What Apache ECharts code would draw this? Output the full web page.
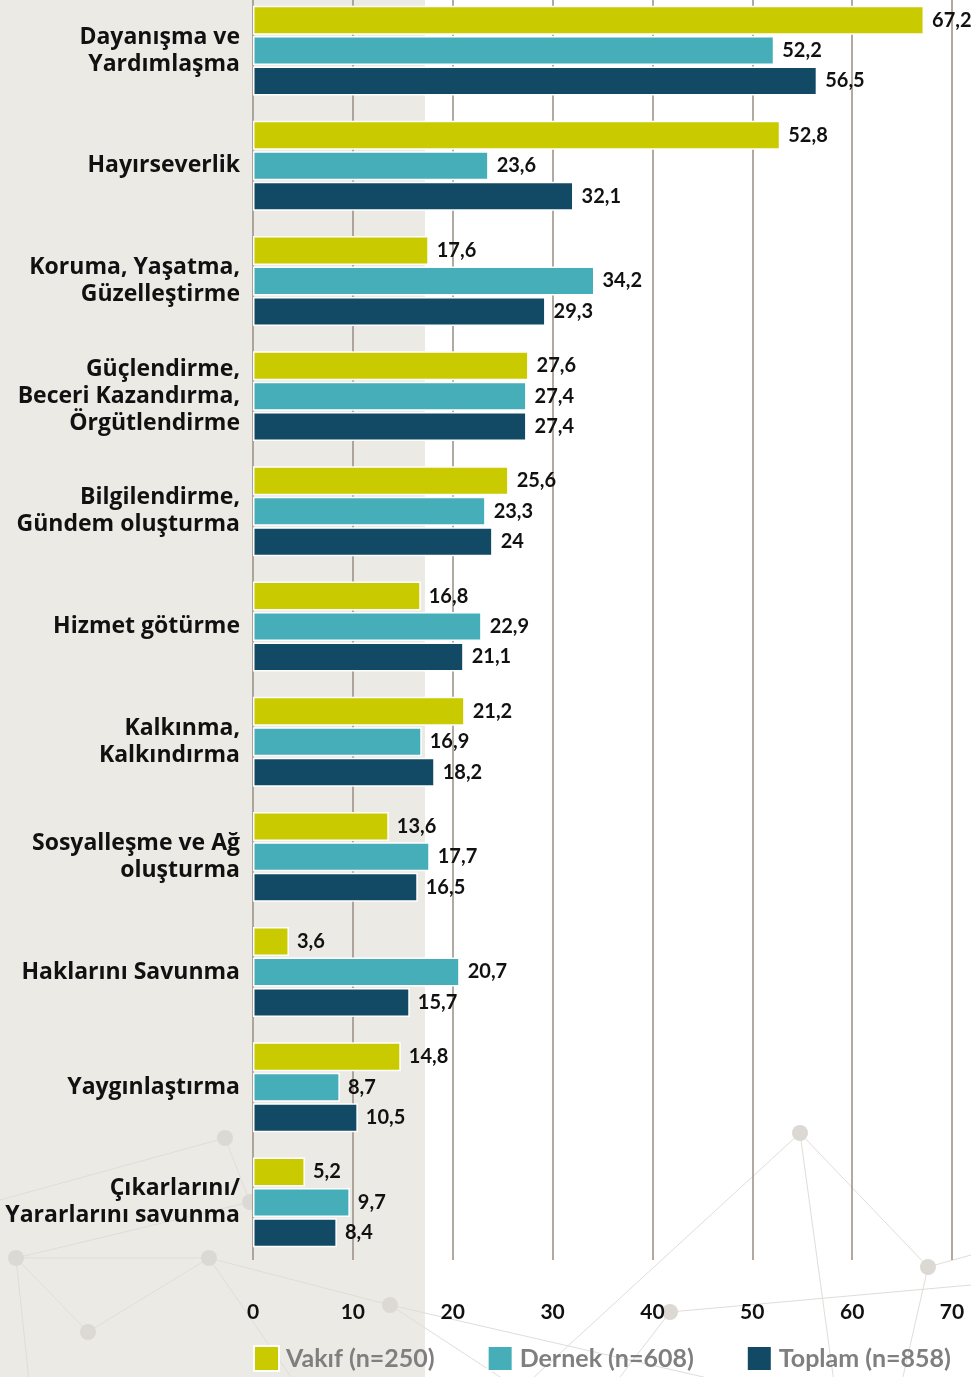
<!DOCTYPE html>
<html>
<head>
<meta charset="utf-8">
<script src="https://cdn.jsdelivr.net/npm/echarts@6/dist/echarts.min.js"></script>
<style>
  html, body { margin: 0; padding: 0; overflow: hidden; }
  #chart {
    width: 971px;
    height: 1384px;
    margin-top: -7px;
    background: linear-gradient(to right, #ECEAE5 0, #ECEAE5 425px, #ffffff 425px);
  }
</style>
</head>
<body>
<div id="chart"></div>
<script>
  // kategoriler (yukarıdan aşağıya)
  var categories = [
    'Dayanışma ve\nYardımlaşma',
    'Hayırseverlik',
    'Koruma, Yaşatma,\nGüzelleştirme',
    'Güçlendirme,\nBeceri Kazandırma,\nÖrgütlendirme',
    'Bilgilendirme,\nGündem oluşturma',
    'Hizmet götürme',
    'Kalkınma,\nKalkındırma',
    'Sosyalleşme ve Ağ\noluşturma',
    'Haklarını Savunma',
    'Yaygınlaştırma',
    'Çıkarlarını/\nYararlarını savunma'
  ];
  var vakif  = [67.2, 52.8, 17.6, 27.6, 25.6, 16.8, 21.2, 13.6, 3.6, 14.8, 5.2];
  var dernek = [52.2, 23.6, 34.2, 27.4, 23.3, 22.9, 16.9, 17.7, 20.7, 8.7, 9.7];
  var toplam = [56.5, 32.1, 29.3, 27.4, 24, 21.1, 18.2, 16.5, 15.7, 10.5, 8.4];
  var seriesNames = ['Vakıf (n=250)', 'Dernek (n=608)', 'Toplam (n=858)'];
  var xTicks = [0, 10, 20, 30, 40, 50, 60, 70];

  var colors = ['#CACA00', '#45AEB9', '#124A65'];
  var chart = echarts.init(document.getElementById('chart'));

  function barSeries(name, data, color) {
    return {
      name: name,
      type: 'bar',
      data: data,
      barWidth: 29,
      barGap: '5%',
      barCategoryGap: '20%',
      itemStyle: { color: color, borderColor: '#ffffff', borderWidth: 1.5 },
      label: {
        show: true,
        position: 'right',
        distance: 8,
        color: '#111',
        fontFamily: 'Lato',
        fontWeight: 'bold',
        fontSize: 20,
        formatter: function (p) { return String(p.value).replace('.', ','); }
      }
    };
  }

  // arka plandaki ağ süsü (sayfa koordinatları, kap 7px yukarıda)
  var dots = [[225, 1138], [800, 1133], [928, 1267], [16, 1258], [209, 1258], [390, 1305], [250, 1202], [670, 1312], [88, 1332]];
  var ends = [[0, 1200], [835, 1390], [971, 1255], [971, 1285], [520, 1390], [30, 1390], [300, 1390], [760, 1390], [610, 1390], [900, 1390]];
  var links = [
    [dots[0], ends[0]], [dots[0], dots[6]], [dots[1], dots[2]], [dots[1], ends[1]], [dots[1], ends[4]],
    [dots[2], ends[2]], [dots[7], ends[3]], [dots[2], ends[9]], [dots[3], dots[4]], [dots[3], ends[5]],
    [dots[4], dots[8]], [dots[4], dots[5]], [dots[4], ends[6]], [dots[5], ends[7]], [dots[7], ends[8]],
    [dots[6], dots[3]], [dots[8], dots[3]], [dots[5], ends[4]]
  ];
  var deco = [];
  links.forEach(function (l) {
    deco.push({
      type: 'line', z: -10, silent: true,
      shape: { x1: l[0][0], y1: l[0][1] + 7, x2: l[1][0], y2: l[1][1] + 7 },
      style: { stroke: '#e0ddd8', lineWidth: 1 }
    });
  });
  dots.forEach(function (d) {
    deco.push({
      type: 'circle', z: -10, silent: true,
      shape: { cx: d[0], cy: d[1] + 7, r: 8 },
      style: { fill: '#dcd9d4' }
    });
  });

  chart.setOption({
    animation: false,
    graphic: deco,
    color: colors,
    grid: { left: 253, right: 19, top: 0, bottom: 117, containLabel: false },
    legend: {
      data: seriesNames,
      left: 253,
      top: 1352,
      padding: 0,
      icon: 'rect',
      itemWidth: 25,
      itemHeight: 25,
      itemGap: 52,
      textStyle: { color: '#7F7F7F', fontSize: 25, fontWeight: 'bold', fontFamily: 'Lato', padding: [0, 0, 0, 2] }
    },
    xAxis: {
      type: 'value',
      min: xTicks[0],
      max: xTicks[xTicks.length - 1],
      interval: 10,
      axisLine: { show: false },
      axisTick: { show: false },
      splitLine: { show: true, lineStyle: { color: '#988D82', width: 1.5 } },
      axisLabel: { margin: 42, color: '#111', fontSize: 21, fontWeight: 'bold', fontFamily: 'Lato' }
    },
    yAxis: {
      type: 'category',
      data: categories,
      inverse: true,
      axisLine: { show: false },
      axisTick: { show: false },
      axisLabel: {
        margin: 13,
        color: '#111',
        fontSize: 23,
        fontWeight: 'bold',
        fontFamily: 'Open Sans',
        lineHeight: 27,
        align: 'right'
      }
    },
    series: [
      barSeries(seriesNames[0], vakif, colors[0]),
      barSeries(seriesNames[1], dernek, colors[1]),
      barSeries(seriesNames[2], toplam, colors[2])
    ]
  });
</script>
</body>
</html>
